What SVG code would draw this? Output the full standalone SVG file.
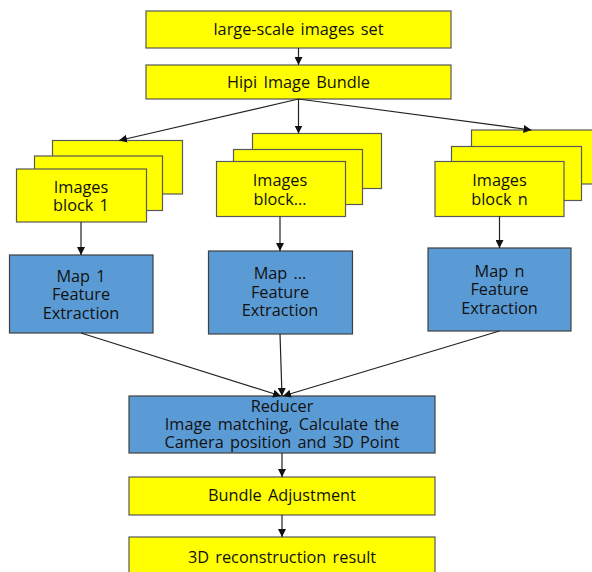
<svg xmlns="http://www.w3.org/2000/svg" width="592" height="572" viewBox="0 0 592 572">
<style>
.y{fill:#FFFF00;stroke:#595959;stroke-width:1.2}
.b{fill:#5B9BD5;stroke:#404040;stroke-width:1.2}
text{font-family:"Open Sans","Noto Sans",sans-serif;font-size:16.3px;fill:#111;text-anchor:middle;word-spacing:2px}
.c line{stroke:#222;stroke-width:1.2;marker-end:url(#ah)}
</style>
<defs>
<marker id="ah" viewBox="0 0 10 10" refX="10" refY="5" markerWidth="8" markerHeight="8" markerUnits="userSpaceOnUse" orient="auto">
<path d="M0,0 L10,5 L0,10 z" fill="#111"/>
</marker>
</defs>
<rect width="592" height="572" fill="#fff"/>
<g id="n-set"><rect class="y" x="146" y="11" width="305" height="37"/><text x="298.5" y="35">large-scale images set</text></g>
<g id="n-hipi"><rect class="y" x="146" y="65" width="305" height="34"/><text x="298.5" y="87.5">Hipi Image Bundle</text></g>
<g id="n-block1">
<rect class="y" x="52.5" y="140.5" width="130" height="53.5"/>
<rect class="y" x="34.5" y="156" width="128" height="54.5"/>
<rect class="y" x="16.5" y="169" width="130" height="53"/>
<text x="81" y="192.5">Images</text><text x="81" y="211">block 1</text>
</g>
<g id="n-blockdots">
<rect class="y" x="252.5" y="133.5" width="129" height="55"/>
<rect class="y" x="233.5" y="149.5" width="129" height="55"/>
<rect class="y" x="216.5" y="161.5" width="129" height="55"/>
<text x="280" y="186">Images</text><text x="280" y="204.5">block...</text>
</g>
<g id="n-blockn">
<rect class="y" x="471.5" y="130" width="130" height="54"/>
<rect class="y" x="451.5" y="146.5" width="130" height="54"/>
<rect class="y" x="435" y="161.5" width="129" height="55"/>
<text x="499.5" y="186">Images</text><text x="499.5" y="204.5">block n</text>
</g>
<g id="n-map1"><rect class="b" x="9.5" y="255" width="143.5" height="78"/>
<text x="81" y="281.5">Map 1</text><text x="81" y="300">Feature</text><text x="81" y="318.5">Extraction</text></g>
<g id="n-mapdots"><rect class="b" x="208.5" y="251" width="144" height="83"/>
<text x="280" y="279">Map ...</text><text x="280" y="297.5">Feature</text><text x="280" y="316">Extraction</text></g>
<g id="n-mapn"><rect class="b" x="428" y="248" width="143" height="83"/>
<text x="499.5" y="276.5">Map n</text><text x="499.5" y="295">Feature</text><text x="499.5" y="313.5">Extraction</text></g>
<g id="n-reducer"><rect class="b" x="129" y="396" width="306" height="57"/>
<text x="282" y="411.5">Reducer</text><text x="282" y="430">Image matching, Calculate the</text><text x="282" y="448">Camera position and 3D Point</text></g>
<g id="n-ba"><rect class="y" x="129" y="477" width="306" height="38"/><text x="282" y="501">Bundle Adjustment</text></g>
<g id="n-result"><rect class="y" x="129" y="537" width="306" height="40"/><text x="282" y="563">3D reconstruction result</text></g>
<g class="c" id="connectors">
<line x1="298.5" y1="48" x2="298.5" y2="65"/>
<line x1="298.5" y1="99" x2="119" y2="140.5"/>
<line x1="298.5" y1="99" x2="298.5" y2="133.5"/>
<line x1="298.5" y1="99" x2="531.5" y2="130"/>
<line x1="81" y1="222" x2="81" y2="255"/>
<line x1="280" y1="216.5" x2="280" y2="251"/>
<line x1="499.5" y1="216.5" x2="499.5" y2="248"/>
<line x1="81" y1="333" x2="281" y2="396"/>
<line x1="280" y1="334" x2="282" y2="396"/>
<line x1="499.5" y1="331" x2="283" y2="396"/>
<line x1="282" y1="453" x2="282" y2="477"/>
<line x1="282" y1="515" x2="282" y2="537"/>
</g>
</svg>
